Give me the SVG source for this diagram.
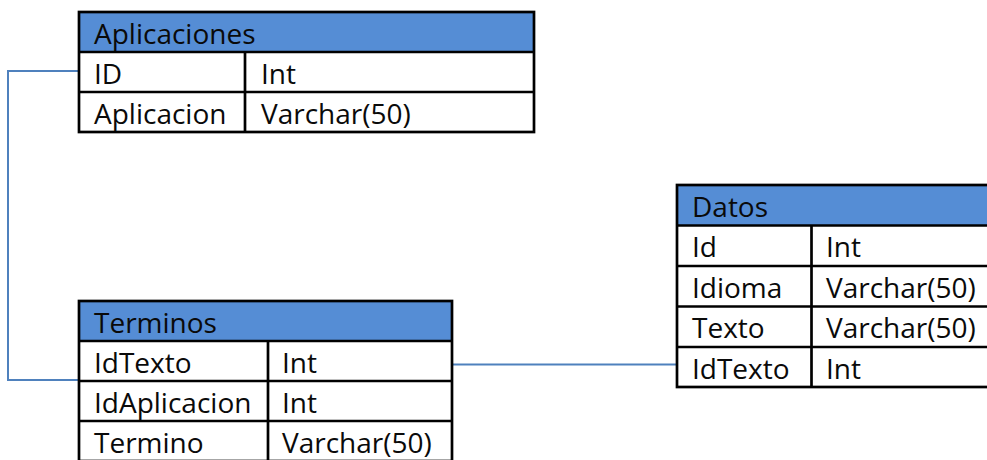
<svg xmlns="http://www.w3.org/2000/svg" width="987" height="460" viewBox="0 0 987 460">
  <style>
    .hdr { fill: #558DD5; stroke: none; }
    .frame { fill: none; stroke: #000; stroke-width: 2.7; }
    .grid { stroke: #000; stroke-width: 2.7; }
    .t { font-family: "Open Sans", "Liberation Sans", sans-serif; font-size: 28px; fill: #0a0a0a; }
    .link { fill: none; stroke: #4F81BD; stroke-width: 2; }
  </style>
  <rect width="987" height="460" fill="#fff"/>

  <!-- relations -->
  <g id="connectors">
    <polyline class="link" points="79,71 8,71 8,380 79,380"/>
    <line class="link" x1="452" y1="364.5" x2="677" y2="364.5"/>
  </g>

  <!-- table: Aplicaciones -->
  <g id="aplicaciones">
    <rect class="hdr" x="79" y="12" width="455" height="40"/>
    <rect class="frame" x="79" y="12" width="455" height="120"/>
    <line class="grid" x1="79" y1="52" x2="534" y2="52"/>
    <line class="grid" x1="79" y1="92" x2="534" y2="92"/>
    <line class="grid" x1="245" y1="52" x2="245" y2="132"/>
    <text class="t" x="94" y="43.5">Aplicaciones</text>
    <text class="t" x="94" y="83.5">ID</text>
    <text class="t" x="261" y="83.5">Int</text>
    <text class="t" x="94" y="123.5">Aplicacion</text>
    <text class="t" x="261" y="123.5">Varchar(50)</text>
  </g>

  <!-- table: Terminos -->
  <g id="terminos">
    <rect class="hdr" x="79" y="301" width="373" height="40"/>
    <rect class="frame" x="79" y="301" width="373" height="160"/>
    <line class="grid" x1="79" y1="341" x2="452" y2="341"/>
    <line class="grid" x1="79" y1="381" x2="452" y2="381"/>
    <line class="grid" x1="79" y1="421" x2="452" y2="421"/>
    <line class="grid" x1="268" y1="341" x2="268" y2="461"/>
    <text class="t" x="94" y="332.5">Terminos</text>
    <text class="t" x="94" y="372.5">IdTexto</text>
    <text class="t" x="282" y="372.5">Int</text>
    <text class="t" x="94" y="412.5">IdAplicacion</text>
    <text class="t" x="282" y="412.5">Int</text>
    <text class="t" x="94" y="452.5">Termino</text>
    <text class="t" x="282" y="452.5">Varchar(50)</text>
  </g>

  <!-- table: Datos -->
  <g id="datos">
    <rect class="hdr" x="677" y="185" width="330" height="40.5"/>
    <rect class="frame" x="677" y="185" width="330" height="202"/>
    <line class="grid" x1="677" y1="225.5" x2="1007" y2="225.5"/>
    <line class="grid" x1="677" y1="266" x2="1007" y2="266"/>
    <line class="grid" x1="677" y1="306.5" x2="1007" y2="306.5"/>
    <line class="grid" x1="677" y1="347" x2="1007" y2="347"/>
    <line class="grid" x1="811.5" y1="225.5" x2="811.5" y2="387"/>
    <text class="t" x="692" y="216.5">Datos</text>
    <text class="t" x="692" y="257">Id</text>
    <text class="t" x="826" y="257">Int</text>
    <text class="t" x="692" y="297.5">Idioma</text>
    <text class="t" x="826" y="297.5">Varchar(50)</text>
    <text class="t" x="692" y="338">Texto</text>
    <text class="t" x="826" y="338">Varchar(50)</text>
    <text class="t" x="692" y="378.5">IdTexto</text>
    <text class="t" x="826" y="378.5">Int</text>
  </g>
</svg>
